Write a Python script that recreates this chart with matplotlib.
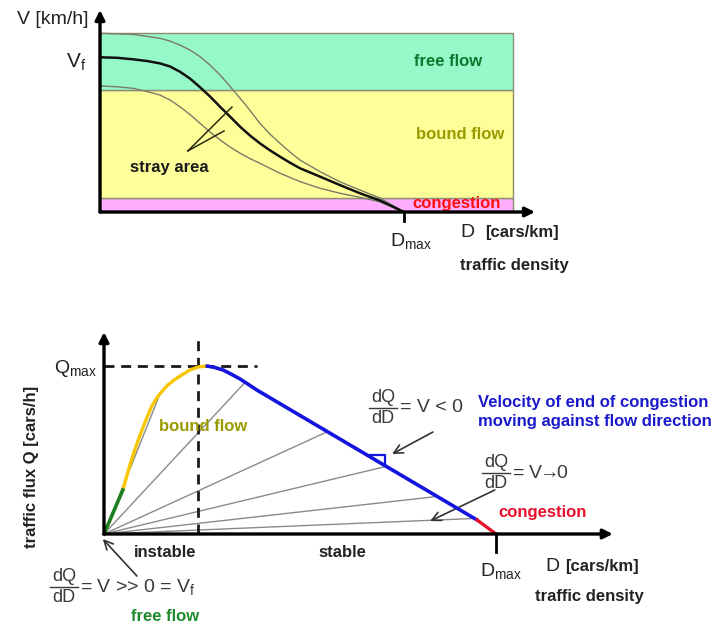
import numpy as np
import matplotlib.pyplot as plt

plt.rcParams['font.family'] = ['Liberation Sans', 'DejaVu Sans']
plt.rcParams['mathtext.default'] = 'regular'

# ---------------- speed / density diagram (D / D_max, V / V_f) ----------------
density_mean = [0, .056, .109, .155, .197, .230, .263, .296, .329, .362, .395, .428, .461,
                .493, .526, .559, .592, .625, .658, .724, .789, .855, .921, 1.0]
speed_mean = [.998, .995, .985, .974, .959, .939, .905, .861, .805, .745, .679, .615, .550,
              .494, .443, .398, .357, .318, .282, .228, .174, .121, .074, 0.0]

density_upper = [0, .109, .197, .230, .263, .296, .329, .362, .395, .438, .484, .526, .559,
                 .592, .625, .658, .724, .789, .855, .921, 1.0]
speed_upper = [1.153, 1.146, 1.121, 1.103, 1.077, 1.045, 1.002, .948, .884, .787, .679, .572,
               .503, .443, .387, .335, .260, .195, .142, .090, 0.0]

density_lower = [0, .056, .109, .155, .197, .230, .263, .296, .329, .362, .395, .428, .461,
                 .493, .526, .592, .658, .724, .789, .855, .921, 1.0]
speed_lower = [.813, .808, .798, .777, .755, .723, .679, .629, .572, .516, .465, .419, .379,
               .345, .314, .250, .196, .153, .121, .095, .065, 0.0]

band_names = ['congestion', 'bound flow', 'free flow']
band_low = [0.0, 0.09, 0.787]
band_high = [0.09, 0.787, 1.152]
band_colors = ['#FFAEFF', '#FFFF99', '#96F8C9']
band_text_colors = ['#FF1010', '#9A9A00', '#0B7A2E']
band_label_density = [1.174, 1.184, 1.145]
band_label_speed = [0.052, 0.503, 0.968]
band_right = 1.359

# ---------------- flow / density diagram (D / D_max, Q / Q_max) ----------------
free_density = [0, .048]
free_flow = [0, .262]
bound_density = [.048, .061, .074, .092, .110, .122, .138, .151, .163, .179, .194, .207,
                 .219, .240, .260]
bound_flow = [.262, .369, .470, .589, .696, .762, .821, .857, .887, .917, .940, .958,
              .976, .994, 1.0]
stable_density = [.263, .283, .304, .324, .347, .390, .952]
stable_flow = [1.0, .991, .976, .952, .923, .857, .083]
jam_density = [.952, 1.0]
jam_flow = [.083, 0.0]

ray_density = [0.143, 0.36, 0.57, 0.72, 0.85, 0.945]
slope_marker_density = [0.671, 0.717]
density_at_qmax = 0.24

TXT = '#222222'
FRAC = '#3a3a3a'

fig = plt.figure(figsize=(7.23, 6.26), dpi=100)

# ======================= upper panel =======================
ax1 = fig.add_axes([100 / 723, (626 - 212) / 626, 1.45 * 304 / 723, 1.31 * 155 / 626])
ax1.set_xlim(0, 1.45)
ax1.set_ylim(0, 1.31)
ax1.axis('off')

for lo, hi, col in zip(band_low, band_high, band_colors):
    ax1.fill_between([0, band_right], [lo, lo], [hi, hi], facecolor=col,
                     edgecolor='#8d8d74', linewidth=1.0, zorder=1, clip_on=False)

for name, x, y, tc in zip(band_names, band_label_density, band_label_speed, band_text_colors):
    ax1.text(x, y, name, color=tc, fontsize=12, fontweight='bold', ha='center',
             va='center', zorder=2 if name == 'congestion' else 3)

ax1.plot(density_upper, speed_upper, color='#7a7a6a', lw=1.0, zorder=4, clip_on=False)
ax1.plot(density_lower, speed_lower, color='#7a7a6a', lw=1.0, zorder=4, clip_on=False)
ax1.plot(density_mean, speed_mean, color='#111111', lw=1.8, zorder=5, clip_on=False,
         solid_joinstyle='round')

# pointer lines for the stray area
ax1.plot([0.289, 0.434], [0.394, 0.677], color='#2a2a10', lw=1.1, zorder=6, clip_on=False)
ax1.plot([0.289, 0.408], [0.394, 0.523], color='#2a2a10', lw=1.1, zorder=6, clip_on=False)
ax1.text(0.227, 0.284, 'stray area', color='#1a1a1a', fontsize=12, fontweight='bold',
         ha='center', va='center', zorder=6)

# axes with arrows
ax1.annotate('', xy=(1.431, 0), xytext=(0, 0),
             arrowprops=dict(arrowstyle='-|>', lw=2.4, color='black', mutation_scale=14,
                             shrinkA=0, shrinkB=0), zorder=8, annotation_clip=False)
ax1.annotate('', xy=(0, 1.303), xytext=(0, 0),
             arrowprops=dict(arrowstyle='-|>', lw=2.4, color='black', mutation_scale=14,
                             shrinkA=0, shrinkB=0), zorder=8, annotation_clip=False)
ax1.plot([1.0, 1.0], [0, -0.058], color='black', lw=2.0, clip_on=False, zorder=8)

ax1.text(-0.039, 1.239, 'V [km/h]', color=TXT, fontsize=14, ha='right', va='center')
ax1.text(-0.046, 0.968, '$V_f$', color=TXT, fontsize=15, ha='right', va='center')
ax1.text(1.023, -0.187, '$D_{max}$', color=TXT, fontsize=14, ha='center', va='center')
ax1.text(1.184, -0.135, 'D', color=TXT, fontsize=14, ha='left', va='center')
ax1.text(1.266, -0.135, '[cars/km]', color=TXT, fontsize=12, fontweight='bold',
         ha='left', va='center')
ax1.text(1.184, -0.342, 'traffic density', color=TXT, fontsize=12, fontweight='bold',
         ha='left', va='center')

# ======================= lower panel =======================
ax2 = fig.add_axes([104 / 723, (626 - 534) / 626, 1.31 * 392 / 723, 1.22 * 168 / 626])
ax2.set_xlim(0, 1.31)
ax2.set_ylim(0, 1.22)
ax2.axis('off')

curve_d = free_density + bound_density[1:] + stable_density + jam_density[1:]
curve_q = free_flow + bound_flow[1:] + stable_flow + jam_flow[1:]
ray_flow = np.interp(ray_density, curve_d, curve_q)
for d, q in zip(ray_density, ray_flow):
    ax2.plot([0, d], [0, q], color='#8a8a8a', lw=1.0, zorder=2, clip_on=False)

qmax = max(bound_flow)
ax2.plot([density_at_qmax, density_at_qmax], [0, 1.155], color='#1a1a1a', lw=2.0,
         dashes=(3.6, 2.4), zorder=3, clip_on=False)
ax2.plot([0, 0.39], [qmax, qmax], color='#1a1a1a', lw=2.0, dashes=(3.6, 2.4),
         zorder=3, clip_on=False)

ax2.plot(bound_density, bound_flow, color='#F7C600', lw=2.4, zorder=4, clip_on=False,
         solid_capstyle='round', solid_joinstyle='round')
ax2.plot(free_density, free_flow, color='#1E7F1E', lw=2.6, zorder=5, clip_on=False)
ax2.plot(stable_density, stable_flow, color='#1414E0', lw=2.6, zorder=5, clip_on=False,
         solid_capstyle='round', solid_joinstyle='round')
ax2.plot(jam_density, jam_flow, color='#E8102A', lw=2.4, zorder=5, clip_on=False)

# slope marker on the stable branch
tri_q0 = np.interp(slope_marker_density[0], stable_density, stable_flow)
tri_q1 = np.interp(slope_marker_density[1], stable_density, stable_flow)
ax2.plot([slope_marker_density[0], slope_marker_density[1], slope_marker_density[1]],
         [tri_q0, tri_q0, tri_q1], color='#1414E0', lw=1.6, zorder=5, clip_on=False)

# axes with arrows
ax2.annotate('', xy=(1.298, 0), xytext=(0, 0),
             arrowprops=dict(arrowstyle='-|>', lw=2.4, color='black', mutation_scale=14,
                             shrinkA=0, shrinkB=0), zorder=8, annotation_clip=False)
ax2.annotate('', xy=(0, 1.202), xytext=(0, 0),
             arrowprops=dict(arrowstyle='-|>', lw=2.4, color='black', mutation_scale=14,
                             shrinkA=0, shrinkB=0), zorder=8, annotation_clip=False)
ax2.plot([1.0, 1.0], [0, -0.107], color='black', lw=2.0, clip_on=False, zorder=8)

ax2.text(-0.018, 0.988, '$Q_{max}$', color=TXT, fontsize=14, ha='right', va='center')
ax2.text(-0.184, 0.399, 'traffic flux Q [cars/h]', color=TXT, fontsize=12,
         fontweight='bold', rotation=90, ha='center', va='center')
ax2.text(0.253, 0.637, 'bound flow', color='#9A9A00', fontsize=12, fontweight='bold',
         ha='center', va='center', zorder=6)
ax2.text(0.156, -0.113, 'instable', color=TXT, fontsize=12, fontweight='bold',
         ha='center', va='center')
ax2.text(0.607, -0.113, 'stable', color=TXT, fontsize=12, fontweight='bold',
         ha='center', va='center')
ax2.text(0.954, 0.726, 'Velocity of end of congestion\nmoving against flow direction',
         color='#1a1acc', fontsize=12, fontweight='bold', ha='left', va='center',
         linespacing=1.35)
ax2.text(1.005, 0.125, 'congestion', color='#E8102A', fontsize=12, fontweight='bold',
         ha='left', va='center')

ax2.text(1.013, -0.22, '$D_{max}$', color=TXT, fontsize=14, ha='center', va='center')
ax2.text(1.126, -0.196, 'D', color=TXT, fontsize=14, ha='left', va='center')
ax2.text(1.176, -0.196, '[cars/km]', color=TXT, fontsize=12, fontweight='bold',
         ha='left', va='center')
ax2.text(1.099, -0.375, 'traffic density', color=TXT, fontsize=12, fontweight='bold',
         ha='left', va='center')
ax2.text(0.156, -0.494, 'free flow', color='#1E8A2E', fontsize=12, fontweight='bold',
         ha='center', va='center')


def fraction(ax, xc, yb, rest, half=0.036, gap=0.012):
    ax.text(xc, yb + gap, 'dQ', color=FRAC, fontsize=13, ha='center', va='bottom')
    ax.plot([xc - half, xc + half], [yb, yb], color=FRAC, lw=1.0, clip_on=False)
    ax.text(xc, yb - gap, 'dD', color=FRAC, fontsize=13, ha='center', va='top')
    ax.text(xc + half + 0.006, yb, rest, color=FRAC, fontsize=14, ha='left', va='center')


fraction(ax2, 0.712, 0.752, '= V < 0')
fraction(ax2, 1.0, 0.363, r'= V$\!\!\rightarrow\!\!$0')
fraction(ax2, -0.102, -0.315, '= V >> 0 = $V_f$')

arrow_kw = dict(arrowstyle='->', lw=1.2, color='#333333', mutation_scale=16,
                shrinkA=0, shrinkB=0)
ax2.annotate('', xy=(0.735, 0.476), xytext=(0.839, 0.607), arrowprops=arrow_kw,
             annotation_clip=False)
ax2.annotate('', xy=(0.832, 0.077), xytext=(0.997, 0.262), arrowprops=arrow_kw,
             annotation_clip=False)
ax2.annotate('', xy=(-0.003, -0.03), xytext=(0.084, -0.25), arrowprops=arrow_kw,
             annotation_clip=False)

fig.savefig('out.png', dpi=100)
